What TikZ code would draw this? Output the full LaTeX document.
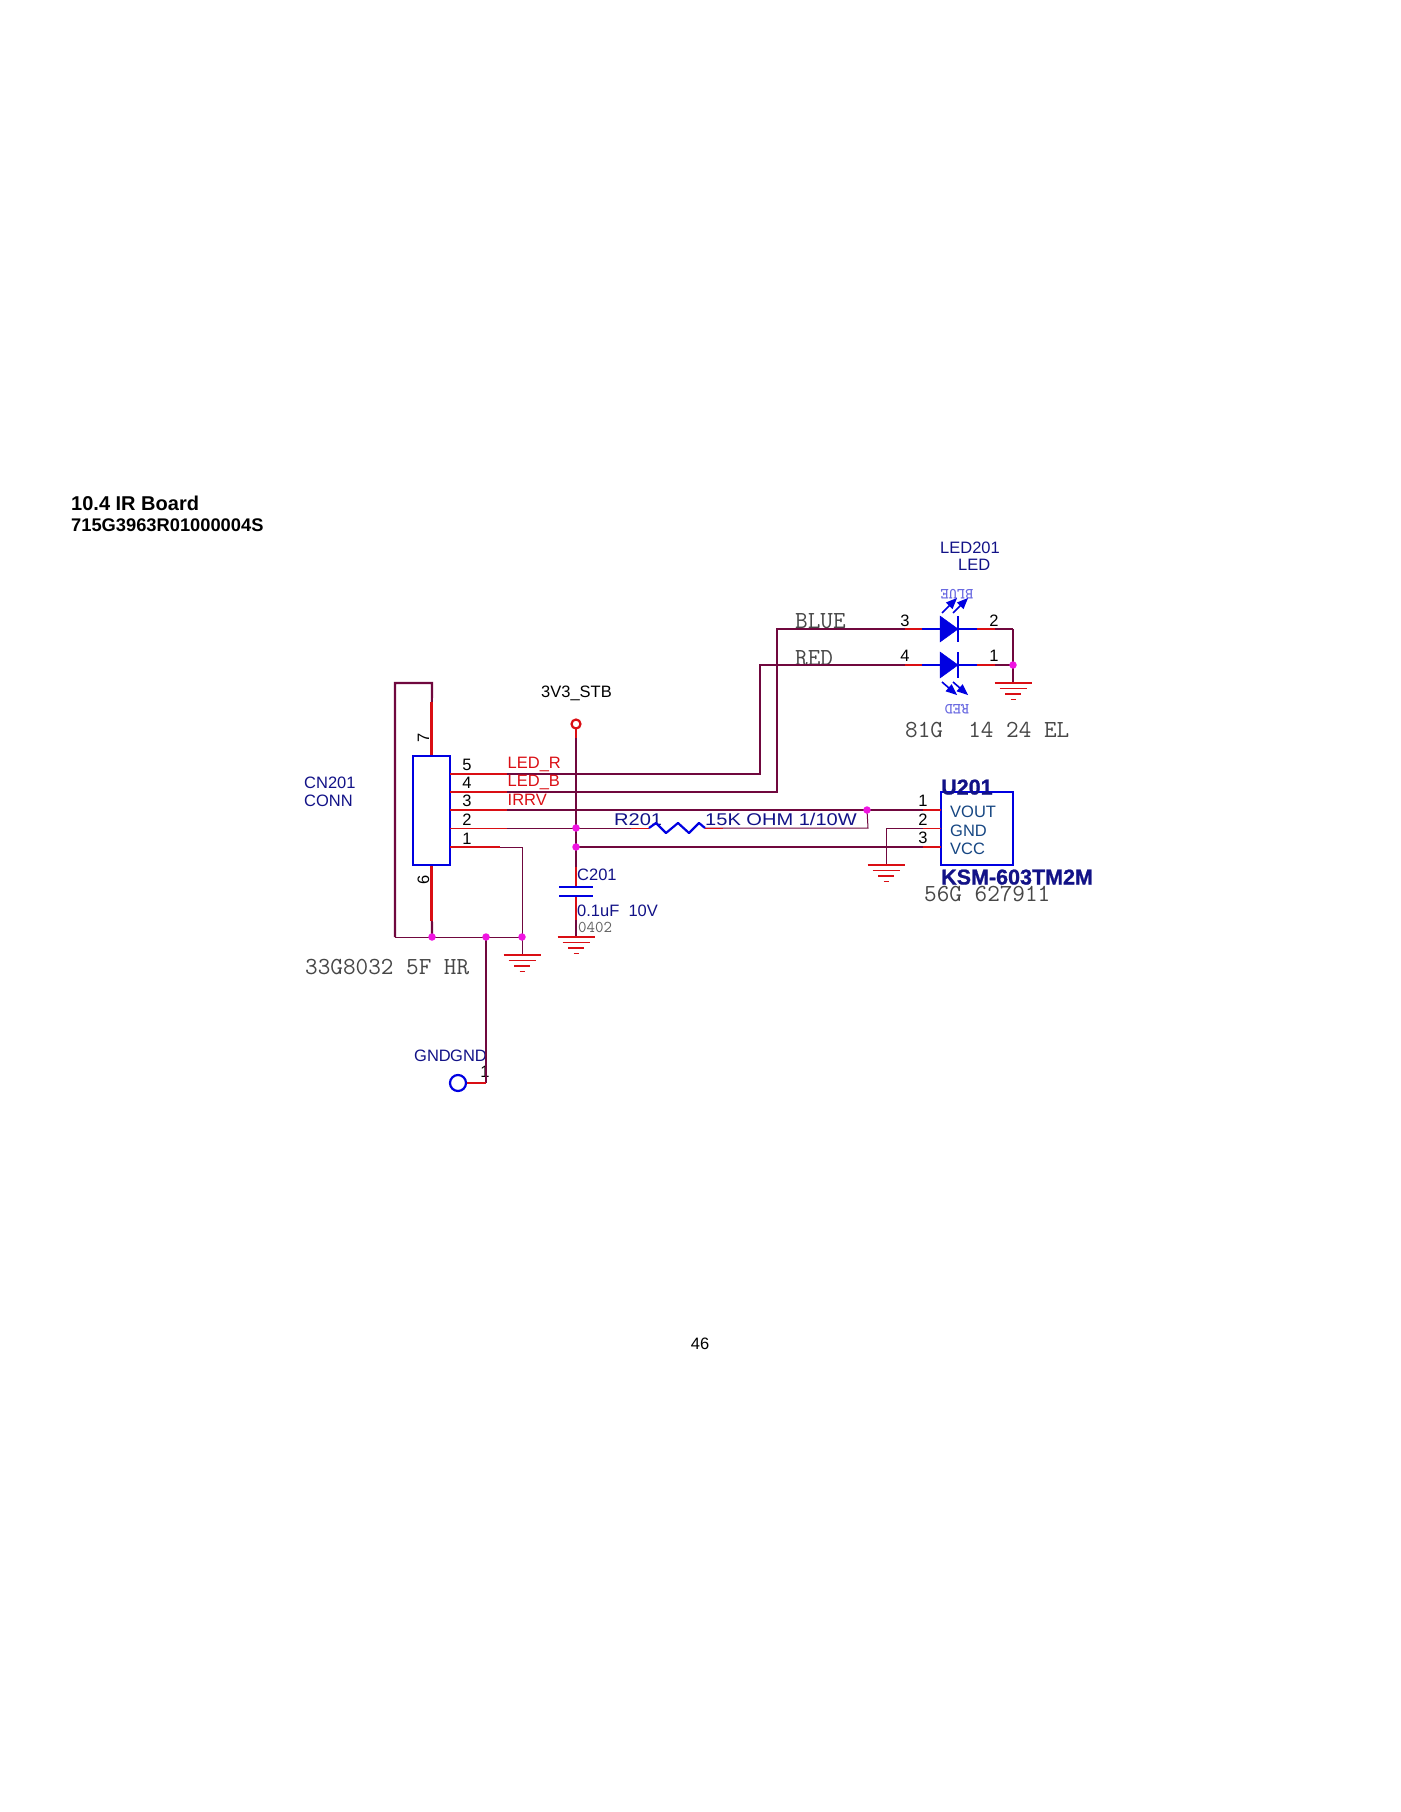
\documentclass[tikz,border=0pt]{standalone}
\usepackage{fontspec}
\setmainfont{Liberation Sans}
\newfontfamily\widefont[FakeStretch=1.18]{Liberation Sans}
\newfontfamily\heavyfont[FakeBold=1]{Liberation Sans Bold}
\usetikzlibrary{arrows}
\definecolor{wireColor}{RGB}{112,8,62}
\definecolor{pinColor}{RGB}{218,14,20}
\definecolor{symColor}{RGB}{0,0,225}
\definecolor{dotColor}{RGB}{240,20,225}
\definecolor{navyColor}{RGB}{18,18,135}
\definecolor{tealColor}{RGB}{22,70,130}
\definecolor{ghostColor}{RGB}{105,105,225}
\tikzset{
  wire/.style={draw=wireColor,line width=2.2pt},
  thinwire/.style={draw=wireColor,line width=1pt},
  pin/.style={draw=pinColor,line width=2.2pt},
  thinpin/.style={draw=pinColor,line width=1pt},
  sym/.style={draw=symColor,line width=2.2pt},
  gndbar/.style={draw=pinColor,line width=1.6pt},
  txt/.style={inner sep=0pt,anchor=west,text height=12pt,text depth=0pt,font=\fontsize{16.5}{18}\selectfont},
  part/.style={txt,text=navyColor},
  sig/.style={txt,text=pinColor},
  num/.style={txt,anchor=center,text=black},
  pinname/.style={txt,text=tealColor},
  code/.style={txt,text height=14.5pt,text=black!72,font=\ttfamily\fontsize{24.5}{26}\selectfont},
  ghost/.style={txt,anchor=center,rotate=180,text height=9.5pt,text=ghostColor,font=\ttfamily\bfseries\fontsize{15.5}{17}\selectfont},
  wide/.style={txt,text=navyColor,font=\widefont\fontsize{17}{19}\selectfont},
  widebold/.style={txt,text height=15pt,text=navyColor,font=\heavyfont\fontsize{21.5}{24}\selectfont},
  dot/.style={circle,fill=dotColor,inner sep=0pt,minimum size=7.5pt},
  hole/.style={circle,draw,inner sep=0pt},
  led/.style={draw=symColor,fill=symColor,line width=0.5pt}
}
\begin{document}
\begin{tikzpicture}[x=1pt,y=-1pt]
\useasboundingbox (0,0) rectangle (1400,1812);
% headings
\node[txt,text height=14.4pt,font=\bfseries\fontsize{20}{22}\selectfont] (title) at (71,503) {10.4 IR Board};
\node[txt,text height=13pt,font=\bfseries\fontsize{18.3}{20}\selectfont] (board) at (71,525) {715G3963R01000004S};
\node[txt,anchor=center] (page) at (700,1343) {46};
% connector
\node[draw=symColor,line width=2.2pt,inner sep=0pt,minimum width=37pt,minimum height=109pt] (cn) at (431.5,810.5) {};
\node[part] (cnref) at (304,782) {CN201};
\node[part] (cnval) at (304,800) {CONN};
\node[code] (cncode) at (305,967) {33G8032 5F HR};
\coordinate (p5) at (450,774);
\coordinate (p4) at (450,792);
\coordinate (p3) at (450,810);
\coordinate (p2) at (450,828);
\coordinate (p1) at (450,847);
\coordinate (loopA) at (432,683);
\coordinate (loopB) at (395,683);
\coordinate (loopC) at (395,937);
\coordinate (jA) at (432,937);
\coordinate (jB) at (486,937);
\coordinate (jC) at (522,937);
\coordinate (cornA) at (522,847);
% supply rail
\coordinate (railTop) at (576,729);
\coordinate (jD) at (576,828);
\coordinate (jE) at (576,847);
\coordinate (capA) at (576,887);
\coordinate (capB) at (576,896);
\node[hole,draw=pinColor,line width=2.2pt,minimum size=9pt] (vcc) at (576,724) {};
\node[txt] (vccname) at (541,691) {3V3\_STB};
\node[part] (cref) at (577,874) {C201};
\node[part] (cval) at (577,910) {0.1uF\ \ 10V};
\node[txt,text height=10pt,text=black!62,font=\ttfamily\fontsize{16.5}{18}\selectfont] (csize) at (578,927) {0402};
% LED
\coordinate (bluePin) at (905,629);
\coordinate (redPin) at (905,665);
\coordinate (blueL) at (777,629);
\coordinate (redL) at (760,665);
\coordinate (blueBot) at (777,792);
\coordinate (redBot) at (760,774);
\coordinate (blueR) at (1013,629);
\coordinate (jF) at (1013,665);
\node[part] (ledref) at (940,547) {LED201};
\node[part] (ledval) at (958,564) {LED};
\node[code] (bluelbl) at (795,621) {BLUE};
\node[code] (redlbl) at (795,658) {RED};
\node[code] (ledcode) at (905,730) {81G\ \ 14 24 EL};
\node[ghost] (ledblue) at (957,594) {BLUE};
\node[ghost] (ledred) at (957,709) {RED};
% receiver
\node[draw=symColor,line width=2.2pt,inner sep=0pt,minimum width=72pt,minimum height=73pt] (ir) at (977,828.5) {};
\node[widebold] (irref) at (941,787) {U201};
\node[widebold] (irval) at (941,877) {KSM-603TM2M};
\node[code] (ircode) at (924,894) {56G 627911};
\node[pinname] (irA) at (950,811) {VOUT};
\node[pinname] (irB) at (950,830) {GND};
\node[pinname] (irC) at (950,848) {VCC};
\coordinate (irPinA) at (941,810);
\coordinate (irPinB) at (941,828);
\coordinate (irPinC) at (941,847);
\coordinate (jG) at (867,810);
\coordinate (cornB) at (868,828);
\coordinate (cornC) at (886,828);
% resistor
\coordinate (resL) at (649,828);
\coordinate (resR) at (705,828);
\node[wide] (rref) at (614,819) {R201};
\node[wide] (rval) at (705,819) {15K OHM 1/10W};
% grounds
\coordinate (gndA) at (522,955);
\coordinate (gndB) at (576,937);
\coordinate (gndC) at (1013,683);
\coordinate (gndD) at (886,865);
% free pin
\node[hole,draw=symColor,line width=2.2pt,minimum size=16pt] (hole) at (458,1083) {};
\coordinate (holeC) at (486,1083);
\node[part] (gndX) at (414,1055) {GND};
\node[part] (gndY) at (450,1055) {GND};
\node[num] (holenum) at (485,1071) {1};
% wires
\draw[wire] (cn.north) -- (loopA) -- (loopB) -- (loopC);
\draw[wire] (cn.south) -- (jA);
\draw[thinwire] (loopC) -- (jC);
\draw[wire] (p5) -- (redBot) -- (redL) -- (redPin);
\draw[wire] (p4) -- (blueBot) -- (blueL) -- (bluePin);
\draw[wire] (p3) -- (irPinA);
\draw[thinwire] (p2) -- (resL);
\draw[thinwire] (resR) -- (cornB) -- (jG);
\draw[thinwire] (p1) -- (cornA) -- (gndA);
\draw[wire] (jE) -- (irPinC);
\draw[thinwire] (irPinB) -- (cornC) -- (gndD);
\draw[wire] (railTop) -- (capA);
\draw[wire] (capB) -- (gndB);
\draw[wire] (jB) -- (holeC);
\draw[wire] (blueR) -- (gndC);
\draw[wire] (redPin) -- (jF);
\draw[wire] (bluePin) -- (blueR);
% red ends of the pins
\foreach \p in {p5,p4,p3}
  \draw[pin] (\p) -- ++(57,0);
\draw[thinpin] (p2) -- ++(57,0);
\draw[pin] (p1) -- ++(50,0);
\draw[pin] (cn.north) -- ++(0,-53);
\draw[pin] (cn.south) -- ++(0,55);
\draw[pin] (railTop) -- ++(0,9);
\draw[pin] (capA) -- ++(0,-20);
\draw[pin] (capB) -- ++(0,24);
\draw[pin] (hole) -- (holeC);
\foreach \p in {irPinA,irPinC}
  \draw[pin] (\p) -- ++(-18,0);
\draw[thinpin] (irPinB) -- ++(-18,0);
\draw[thinpin] (resL) -- ++(-18,0);
\draw[thinpin] (resR) -- ++(18,0);
\foreach \p in {bluePin,redPin}
{
  \draw[pin] (\p) -- ++(17,0);
  \draw[pin] (\p) ++(72,0) -- ++(18,0);
}
% capacitor
\draw[sym] (capA) ++(-17,0) -- ++(34,0);
\draw[sym] (capB) ++(-17,0) -- ++(34,0);
% resistor zigzag
\draw[sym,line join=round] (resL) -- ++(7,-5) -- ++(10,10) -- ++(12,-10) -- ++(11,10) -- ++(10,-10) -- (resR);
% diodes
\foreach \p in {bluePin,redPin}
{
  \draw[sym] (\p) ++(17,0) -- ++(55,0);
  \draw[sym] (\p) ++(53,-13) -- ++(0,26);
  \draw[led] (\p) ++(35,-13) -- ++(18,13) -- ++(-18,13) -- cycle;
}
\draw[->,>=triangle 45,sym,line width=1.6pt] (bluePin) ++(37,-16) -- ++(15,-15);
\draw[->,>=triangle 45,sym,line width=1.6pt] (bluePin) ++(48,-16) -- ++(15,-15);
\draw[->,>=triangle 45,sym,line width=1.6pt] (redPin) ++(37,17) -- ++(15,13);
\draw[->,>=triangle 45,sym,line width=1.6pt] (redPin) ++(48,17) -- ++(15,13);
% ground symbols
\foreach \g in {gndA,gndB,gndC,gndD}
{
  \draw[gndbar] (\g) ++(-18.5,0) -- ++(37,0);
  \draw[gndbar] (\g) ++(-13.5,5.5) -- ++(27,0);
  \draw[gndbar] (\g) ++(-8,11) -- ++(16,0);
  \draw[gndbar] (\g) ++(-2.5,16.5) -- ++(5,0);
}
% junctions
\foreach \j in {jA,jB,jC,jD,jE,jF,jG}
  \node[dot] (\j dot) at (\j) {};
% pin numbers
\foreach \n/\y in {5/764,4/782,3/800,2/819,1/838}
  \node[num] (cnpin\n) at (467,\y) {\n};
\foreach \n/\y in {1/800,2/819,3/837}
  \node[num] (irpin\n) at (923,\y) {\n};
\node[num,rotate=90] (cnpin7) at (423,738) {7};
\node[num,rotate=90] (cnpin6) at (423,880) {6};
\node[num] (ledA) at (905,620) {3};
\node[num] (ledB) at (905,655) {4};
\node[num] (ledC) at (994,620) {2};
\node[num] (ledD) at (994,655) {1};
% signal names
\node[sig] (sigR) at (507.5,762) {LED\_R};
\node[sig] (sigB) at (507.5,780) {LED\_B};
\node[sig] (sigI) at (507.5,799) {IRRV};
\end{tikzpicture}
\end{document}
